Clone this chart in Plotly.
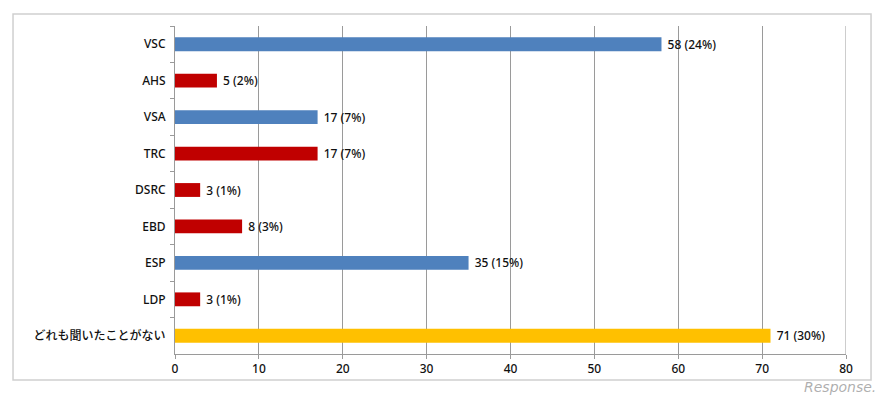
import plotly.graph_objects as go

categories = ["VSC", "AHS", "VSA", "TRC", "DSRC", "EBD", "ESP", "LDP", "どれも聞いたことがない"]
values = [58, 5, 17, 17, 3, 8, 35, 3, 71]
percents = [24, 2, 7, 7, 1, 3, 15, 1, 30]
bar_colors = ["#4F81BD", "#C00000", "#4F81BD", "#C00000", "#C00000", "#C00000", "#4F81BD", "#C00000", "#FFC000"]
x_ticks = [0, 10, 20, 30, 40, 50, 60, 70, 80]

labels = [f"\u00a0{v} ({p}%)" for v, p in zip(values, percents)]

FONT = "Noto Sans, Noto Sans CJK JP, sans-serif"

fig = go.Figure(go.Bar(
    y=categories,
    x=values,
    orientation="h",
    marker=dict(color=bar_colors, line=dict(width=0)),
    width=0.38,
    text=labels,
    textposition="outside",
    constraintext="none",
    textfont=dict(family=FONT, size=12, color="#111111", weight=500),
    cliponaxis=False,
))

fig.update_layout(
    width=889, height=398,
    margin=dict(l=175, r=43, t=26, b=44, autoexpand=False),
    paper_bgcolor="white",
    plot_bgcolor="white",
    showlegend=False,
    font=dict(family=FONT, size=12, color="#111111"),
    xaxis=dict(
        range=[0, 80],
        tickvals=x_ticks,
        ticktext=[str(t) for t in x_ticks],
        showgrid=True, gridcolor="#9a9a9a", gridwidth=1,
        zeroline=False,
        showline=True, linecolor="#9a9a9a", linewidth=1,
        ticks="outside", ticklen=4, tickcolor="#9a9a9a",
        tickfont=dict(family=FONT, size=12, color="#111111", weight=500),
        automargin=False,
        fixedrange=True,
    ),
    yaxis=dict(
        categoryorder="array",
        categoryarray=categories,
        autorange="reversed",
        showgrid=False,
        showline=True, linecolor="#9a9a9a", linewidth=1,
        ticks="outside", ticklen=4, tickcolor="#9a9a9a",
        tickson="boundaries",
        ticklabelstandoff=6,
        tickfont=dict(family=FONT, size=12, color="#111111", weight=500),
        automargin=False,
        fixedrange=True,
    ),
)

# Right edge line at 80
fig.add_shape(type="line", xref="x", yref="paper", x0=80, x1=80, y0=0, y1=1,
              line=dict(color="#9a9a9a", width=1))

# Outer chart border
fig.add_shape(type="rect", xref="paper", yref="paper",
              x0=-0.2414, x1=1.0373, y0=-0.0793, y1=1.0366,
              line=dict(color="#cfcfcf", width=1.5), fillcolor="rgba(0,0,0,0)", layer="below")

# Watermark
fig.add_annotation(xref="paper", yref="paper", x=1.0477, y=-0.131,
                   xanchor="right", yanchor="bottom",
                   text="<i>Response.</i>", showarrow=False,
                   font=dict(family="DejaVu Sans, sans-serif", size=14, color="rgba(120,120,120,0.6)"))

fig.write_html("out.html", config={"displayModeBar": False},
               post_script="document.body.style.margin='0';document.body.style.padding='0';")
